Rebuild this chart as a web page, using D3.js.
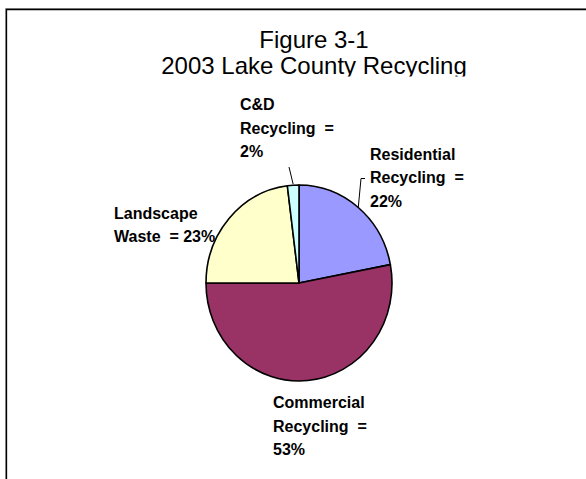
<!DOCTYPE html>
<html>
<head>
<meta charset="utf-8">
<script src="https://cdn.jsdelivr.net/npm/d3@7"></script>
<style>
  html, body { margin: 0; padding: 0; background: #fff; }
  svg { display: block; }
  text { font-family: Arial, "Liberation Sans", sans-serif; }
</style>
</head>
<body>
<script>
// Recycling shares by category (percent), drawn clockwise from 12 o'clock
const categories = ["Residential Recycling", "Commercial Recycling", "Landscape Waste", "C&D Recycling"];
const shares = [22, 53, 23, 2];
const colors = ["#9999FF", "#993366", "#FFFFCC", "#CCFFFF"];
// Label text lines per slice
const labelLines = [
  ["Residential", "Recycling  =", "22%"],
  ["Commercial", "Recycling  =", "53%"],
  ["Landscape", "Waste  = 23%"],
  ["C&D", "Recycling  =", "2%"]
];
const titleLines = ["Figure 3-1", "2003 Lake County Recycling"];

const W = 586, H = 479;
const cx = 299, cy = 283, ry = 98, rx = 93;
const lineGap = 23.5;

const svg = d3.select("body").append("svg")
  .attr("width", W).attr("height", H);

// chart frame (open on the right and bottom)
svg.append("path")
  .attr("d", `M5.5,${H} V8.5 H${W}`)
  .attr("fill", "none").attr("stroke", "#999").attr("stroke-width", 1);
svg.append("path")
  .attr("d", `M6.5,${H} V9.5 H${W}`)
  .attr("fill", "none").attr("stroke", "#000").attr("stroke-width", 1.3);

// title, clipped at the bottom of its box
svg.append("clipPath").attr("id", "titleClip")
  .append("rect").attr("x", 0).attr("y", 0).attr("width", W).attr("height", 76.5);
const title = svg.append("g").attr("clip-path", "url(#titleClip)");
title.selectAll("text").data(titleLines).join("text")
  .attr("x", 314)
  .attr("y", (d, i) => 48 + i * 26)
  .attr("text-anchor", "middle")
  .attr("font-size", 24)
  .attr("fill", "#000")
  .text(d => d);

const pie = d3.pie().sort(null).value(d => d)(shares);
const arc = d3.arc().innerRadius(0).outerRadius(ry);

const pieG = svg.append("g")
  .attr("transform", `translate(${cx},${cy}) scale(${rx / ry},1)`);
pieG.selectAll("path").data(pie).join("path")
  .attr("d", arc)
  .attr("fill", (d, i) => colors[i])
  .attr("stroke", "#000")
  .attr("stroke-width", 1.6)
  .attr("stroke-linejoin", "round")
  .attr("vector-effect", "non-scaling-stroke");

// point on the pie rim at a slice's middle angle
function rim(d) {
  const a = (d.startAngle + d.endAngle) / 2;
  return [cx + rx * Math.sin(a), cy - ry * Math.cos(a)];
}

// label positions (left edge x, first baseline y)
const labelPos = [[370, 159.5], [273, 408], [114, 218.5], [240, 110]];

const labels = svg.append("g")
  .attr("font-size", 16).attr("font-weight", "bold").attr("fill", "#000");
labelLines.forEach((lines, i) => {
  const t = labels.append("text")
    .attr("x", labelPos[i][0]).attr("y", labelPos[i][1])
    .style("white-space", "pre");
  lines.forEach((s, j) => {
    t.append("tspan")
      .attr("x", labelPos[i][0])
      .attr("y", labelPos[i][1] + j * lineGap)
      .text(s);
  });
});

// leader lines for the two upper labels
const lead = svg.append("g").attr("fill", "none").attr("stroke", "#000").attr("stroke-width", 1);
const pRes = rim(pie[0]);
lead.append("path")
  .attr("d", `M${pRes[0]},${pRes[1]} L361,178.5 H365`);
const pCD = rim(pie[3]);
lead.append("path")
  .attr("d", `M${pCD[0]},${pCD[1] - 1} L289,167`);
</script>
</body>
</html>
